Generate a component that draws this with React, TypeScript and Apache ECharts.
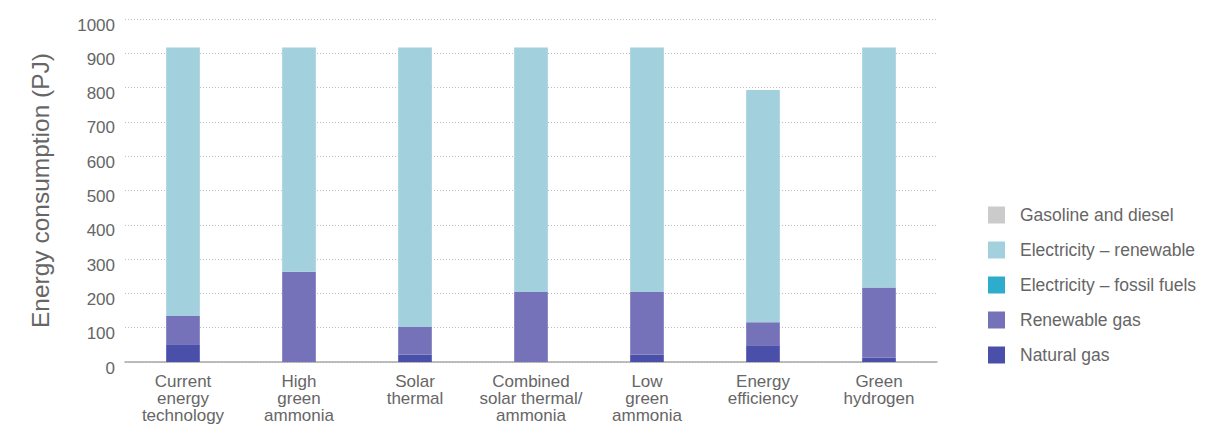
import React, { useEffect, useRef } from "react";
import * as echarts from "echarts";

const categories = [
  "Current\nenergy\ntechnology",
  "High\ngreen\nammonia",
  "Solar\nthermal",
  "Combined\nsolar thermal/\nammonia",
  "Low\ngreen\nammonia",
  "Energy\nefficiency",
  "Green\nhydrogen",
];
const naturalGas = [52, 0, 22, 0, 22, 49, 13];
const renewableGas = [82, 263, 80, 204, 182, 67, 204];
const electricityFossil = [0, 0, 0, 0, 0, 0, 0];
const electricityRenewable = [783, 654, 815, 713, 713, 677, 700];
const gasolineDiesel = [0, 0, 0, 0, 0, 0, 0];
const yTicks = [0, 100, 200, 300, 400, 500, 600, 700, 800, 900, 1000];

const FONT = "Liberation Sans, Arial, sans-serif";
const TEXT = "#666666";

export default function App() {
  const ref = useRef<HTMLDivElement>(null);
  useEffect(() => {
    document.body.style.margin = "0";
    const chart = echarts.init(ref.current!, null, { renderer: "svg" });
    const mk = (name: string, data: number[], color: string) => ({
      name,
      type: "bar",
      stack: "total",
      data,
      barWidth: "29%",
      itemStyle: { color },
    });
    chart.setOption({
      animation: false,
      textStyle: { fontFamily: FONT },
      grid: { left: 125, right: 284, top: 19, bottom: 70 },
      legend: {
        orient: "vertical",
        left: 988,
        top: 206,
        padding: 0,
        itemWidth: 17,
        itemHeight: 17,
        itemGap: 17,
        icon: "rect",
        textStyle: { color: TEXT, fontSize: 17.5, fontFamily: FONT, padding: [0, 0, 0, 10] },
        data: [
          "Gasoline and diesel",
          "Electricity – renewable",
          "Electricity – fossil fuels",
          "Renewable gas",
          "Natural gas",
        ],
      },
      xAxis: {
        type: "category",
        data: categories,
        axisLine: { lineStyle: { color: "#a8a8a8", width: 1.5 } },
        axisTick: { show: false },
        axisLabel: {
          color: TEXT,
          fontSize: 17,
          lineHeight: 17,
          margin: 11,
          interval: 0,
          fontFamily: FONT,
        },
      },
      yAxis: {
        type: "value",
        min: yTicks[0],
        max: yTicks[yTicks.length - 1],
        interval: 100,
        name: "Energy consumption (PJ)",
        nameLocation: "middle",
        nameGap: 72,
        nameTextStyle: { color: TEXT, fontSize: 24.5, fontFamily: FONT },
        axisLine: { show: false },
        axisTick: { show: false },
        axisLabel: {
          color: TEXT,
          fontSize: 17,
          margin: 10,
          verticalAlign: "top",
          lineHeight: 12,
          fontFamily: FONT,
          formatter: (v: number) => String(v),
        },
        splitLine: { lineStyle: { color: "#bdbdbd", type: [1, 2], width: 1 } },
      },
      series: [
        mk("Natural gas", naturalGas, "#4a4fa9"),
        mk("Renewable gas", renewableGas, "#7572b9"),
        mk("Electricity – fossil fuels", electricityFossil, "#2eaccb"),
        mk("Electricity – renewable", electricityRenewable, "#a2d0dd"),
        mk("Gasoline and diesel", gasolineDiesel, "#cbcbcb"),
      ],
    });
    return () => chart.dispose();
  }, []);
  return <div ref={ref} style={{ width: 1221, height: 432 }} />;
}
